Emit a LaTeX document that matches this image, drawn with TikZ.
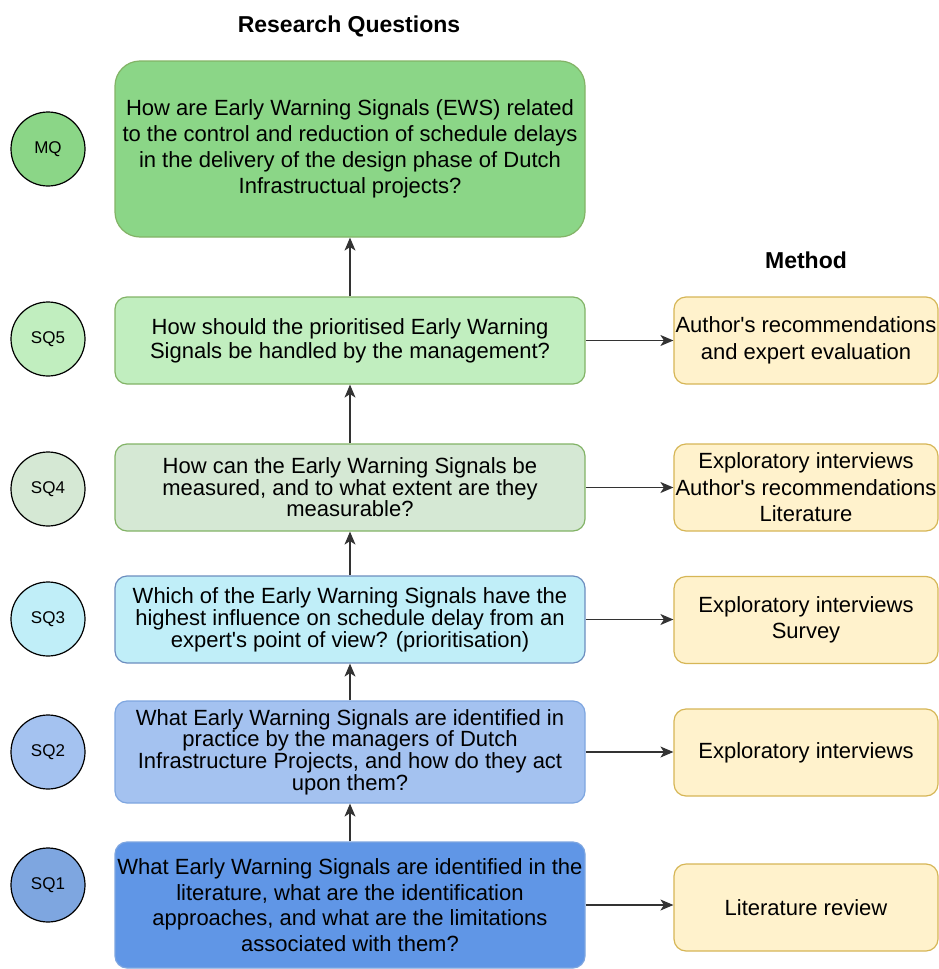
\documentclass[tikz,border=0pt]{standalone}
\usepackage{fontspec}
\setmainfont{Liberation Sans}
\usetikzlibrary{arrows.meta}

% fills and strokes of the question levels
\definecolor{mqfill}{HTML}{8BD687}
\definecolor{sqfivefill}{HTML}{C1EEBF}
\definecolor{sqfourfill}{HTML}{D5E8D4}
\definecolor{sqthreefill}{HTML}{C0EEF8}
\definecolor{sqtwofill}{HTML}{A4C2F0}
\definecolor{sqonefill}{HTML}{6096E6}
\definecolor{sqonedot}{HTML}{7EA6E0}
\definecolor{greenline}{HTML}{82B366}
\definecolor{blueline}{HTML}{7EA6E0}
\definecolor{cyanline}{HTML}{6C8EBF}
\definecolor{methodfill}{HTML}{FFF2CC}
\definecolor{methodline}{HTML}{D6B656}

% straight apostrophe
\newcommand{\apos}{\textquotesingle}

\tikzset{
  question/.style={draw, line width=1.2pt, rounded corners=12pt, minimum width=470pt,
    inner sep=0pt, align=center, font=\fontsize{22}{24}\selectfont},
  method/.style={draw=methodline, fill=methodfill, line width=1.2pt, rounded corners=12pt,
    minimum width=264pt, minimum height=87pt, inner sep=0pt, align=center,
    font=\fontsize{22}{26.5}\selectfont},
  level/.style={circle, draw=black, line width=1.2pt, minimum size=74pt, inner sep=0pt,
    font=\fontsize{17}{20}\selectfont},
  heading/.style={font=\bfseries\fontsize{23}{26}\selectfont},
  link/.style={line width=1.2pt, draw=black!80, -{Stealth[length=13pt,width=11pt,inset=3.5pt]}}
}

\begin{document}
\begin{tikzpicture}[x=1pt, y=-1pt]
  \useasboundingbox (0,0) rectangle (939,969);

  % headings
  \node[heading] (rqhead) at (349,26) {Research Questions};
  \node[heading] (methodhead) at (806,260) {Method};

  % research questions, main question on top
  \node[question, draw=greenline, fill=mqfill, minimum height=176pt, rounded corners=25pt,
        font=\fontsize{22}{26}\selectfont] (mq) at (350,149)
    {How are Early Warning Signals (EWS) related\\to the control and reduction of schedule delays\\in the delivery of the design phase of Dutch\\Infrastructual projects?};
  \node[question, draw=greenline, fill=sqfivefill, minimum height=87pt] (sq5) at (350,340.5)
    {How should the prioritised Early Warning\\Signals be handled by the management?};
  \node[question, draw=greenline, fill=sqfourfill, minimum height=87pt,
        font=\fontsize{22}{21.5}\selectfont] (sq4) at (350,487.5)
    {How can the Early Warning Signals be\\measured, and to what extent are they\\measurable?};
  \node[question, draw=cyanline, fill=sqthreefill, minimum height=87pt,
        font=\fontsize{22}{22}\selectfont] (sq3) at (350,619.5)
    {Which of the Early Warning Signals have the\\highest influence on schedule delay from an\\expert\apos s point of view? (prioritisation)};
  \node[question, draw=blueline, fill=sqtwofill, minimum height=102pt,
        font=\fontsize{22}{21.7}\selectfont] (sq2) at (350,752)
    {What Early Warning Signals are identified in\\practice by the managers of Dutch\\Infrastructure Projects, and how do they act\\upon them?};
  \node[question, draw=blueline, fill=sqonefill, minimum height=126pt,
        font=\fontsize{22}{25.7}\selectfont] (sq1) at (350,905)
    {What Early Warning Signals are identified in the\\literature, what are the identification\\approaches, and what are the limitations\\associated with them?};

  % level markers
  \node[level, fill=mqfill] (cmq) at (48,149) {MQ};
  \node[level, fill=sqfivefill] (c5) at (48,339) {SQ5};
  \node[level, fill=sqfourfill] (c4) at (48,489) {SQ4};
  \node[level, fill=sqthreefill] (c3) at (48,619) {SQ3};
  \node[level, fill=sqtwofill] (c2) at (48,752) {SQ2};
  \node[level, fill=sqonedot] (c1) at (48,885) {SQ1};

  % methods
  \node[method] (m5) at (806,340.5) {Author\apos s recommendations\\and expert evaluation};
  \node[method] (m4) at (806,487.5) {Exploratory interviews\\Author\apos s recommendations\\Literature};
  \node[method] (m3) at (806,620) {Exploratory interviews\\Survey};
  \node[method] (m2) at (806,752.5) {Exploratory interviews};
  \node[method] (m1) at (806,907.5) {Literature review};

  % chain of questions
  \draw[link] (sq1.north) -- (sq2.south);
  \draw[link] (sq2.north) -- (sq3.south);
  \draw[link] (sq3.north) -- (sq4.south);
  \draw[link] (sq4.north) -- (sq5.south);
  \draw[link] (sq5.north) -- (mq.south);

  % questions to methods
  \draw[link] (sq5.east) -- (sq5.east -| m5.west);
  \draw[link] (sq4.east) -- (sq4.east -| m4.west);
  \draw[link] (sq3.east) -- (sq3.east -| m3.west);
  \draw[link] (sq2.east) -- (sq2.east -| m2.west);
  \draw[link] (sq1.east) -- (sq1.east -| m1.west);
\end{tikzpicture}
\end{document}
